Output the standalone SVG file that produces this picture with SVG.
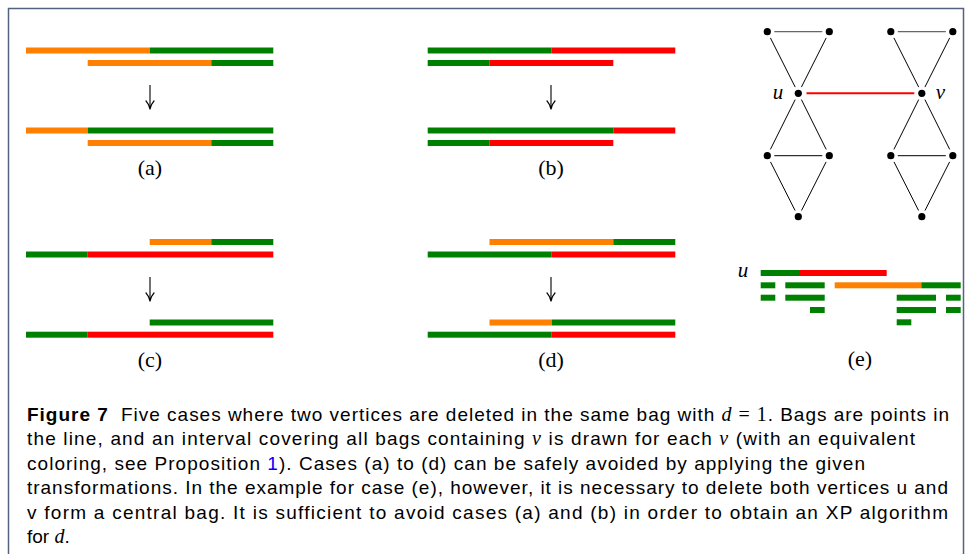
<svg xmlns="http://www.w3.org/2000/svg" width="970" height="554" viewBox="0 0 970 554">
<style>
.o{fill:#ff8000}.g{fill:#008000}.r{fill:#ff0000}
.lbl{font-family:"Liberation Serif",serif;font-size:22px;fill:#000;text-anchor:middle}
.mi{font-family:"Liberation Serif",serif;font-style:italic;font-size:21px;fill:#000}
.cap{font-family:"Liberation Sans",Arial,sans-serif;font-size:19px;fill:#000}
.m{font-family:"Liberation Serif",serif;font-style:italic;font-size:20px}
.mr{font-family:"Liberation Serif",serif;font-size:20px}
.arr{stroke:#000;stroke-width:1.1;fill:none}
.e{stroke:#000;stroke-width:1;fill:none}
.et{stroke:#666;stroke-width:1.3;fill:none}
</style>
<defs>
<g id="arrow"><path class="arr" d="M0,0 V24 M-4.3,15.5 Q-1,19 0,24.5 Q1,19 4.3,15.5"/></g>
<g id="tri">
<path class="et" d="M774.3,31.7 H822.3"/>
<path class="e" d="M770.4,37.9 L795.2,87.1 M826.2,37.9 L801.4,87.1 M795.2,99.6 L770.4,149.4 M801.4,99.6 L826.2,149.4 M774.3,155.7 H822.3 M770.5,161.9 L795.1,210.5 M826.1,161.9 L801.5,210.5"/>
<circle cx="767.3" cy="31.7" r="3.6"/><circle cx="829.3" cy="31.7" r="3.6"/>
<circle cx="798.3" cy="93.3" r="3.6"/>
<circle cx="767.3" cy="155.7" r="3.6"/><circle cx="829.3" cy="155.7" r="3.6"/>
<circle cx="798.3" cy="216.7" r="3.6"/>
</g>
</defs>
<rect x="0" y="0" width="970" height="554" fill="#fff"/>
<path d="M8.5,560 V8.5 H963.5 V560" fill="none" stroke="#54627e" stroke-width="1.5"/>

<g id="case-a">
<rect class="o" x="26" y="47.5" width="123.7" height="6"/><rect class="g" x="149.7" y="47.5" width="123.6" height="6"/>
<rect class="o" x="87.7" y="60" width="123.6" height="6"/><rect class="g" x="211.3" y="60" width="62" height="6"/>
<use href="#arrow" x="150" y="85"/>
<rect class="o" x="26" y="127.5" width="61.7" height="6"/><rect class="g" x="87.7" y="127.5" width="185.6" height="6"/>
<rect class="o" x="87.7" y="140" width="123.6" height="6"/><rect class="g" x="211.3" y="140" width="62" height="6"/>
<text class="lbl" x="150" y="175">(a)</text>
</g>

<g id="case-b">
<rect class="g" x="427.7" y="47.5" width="124" height="6"/><rect class="r" x="551.7" y="47.5" width="123.6" height="6"/>
<rect class="g" x="427.7" y="60" width="61.6" height="6"/><rect class="r" x="489.3" y="60" width="124" height="6"/>
<use href="#arrow" x="551" y="85"/>
<rect class="g" x="427.7" y="127.5" width="185.6" height="6"/><rect class="r" x="613.3" y="127.5" width="62" height="6"/>
<rect class="g" x="427.7" y="140" width="61.6" height="6"/><rect class="r" x="489.3" y="140" width="124" height="6"/>
<text class="lbl" x="551" y="175">(b)</text>
</g>

<g id="case-c">
<rect class="o" x="149.7" y="239" width="61.6" height="6"/><rect class="g" x="211.3" y="239" width="62" height="6"/>
<rect class="g" x="26" y="251.5" width="61.7" height="6"/><rect class="r" x="87.7" y="251.5" width="185.6" height="6"/>
<use href="#arrow" x="150" y="277"/>
<rect class="g" x="149.7" y="319.5" width="123.6" height="6"/>
<rect class="g" x="26" y="331.7" width="61.7" height="6"/><rect class="r" x="87.7" y="331.7" width="185.6" height="6"/>
<text class="lbl" x="150" y="367">(c)</text>
</g>

<g id="case-d">
<rect class="o" x="489.5" y="239" width="123.8" height="6"/><rect class="g" x="613.3" y="239" width="62" height="6"/>
<rect class="g" x="427.7" y="251.5" width="124" height="6"/><rect class="r" x="551.7" y="251.5" width="123.6" height="6"/>
<use href="#arrow" x="551" y="277"/>
<rect class="o" x="489.5" y="319.5" width="62.2" height="6"/><rect class="g" x="551.7" y="319.5" width="123.6" height="6"/>
<rect class="g" x="427.7" y="331.7" width="124" height="6"/><rect class="r" x="551.7" y="331.7" width="123.6" height="6"/>
<text class="lbl" x="551" y="367">(d)</text>
</g>

<g id="case-e-graph">
<use href="#tri"/>
<use href="#tri" x="123.5"/>
<path d="M806.5,93.3 H914.3" stroke="#ff0000" stroke-width="2"/>
<text class="mi" x="778" y="99" text-anchor="middle">u</text>
<text class="mi" x="940.5" y="99" text-anchor="middle">v</text>
</g>

<g id="case-e-bars">
<text class="mi" x="743" y="277" text-anchor="middle">u</text>
<rect class="g" x="760.7" y="270" width="39.3" height="6"/><rect class="r" x="800" y="270" width="86.7" height="6"/>
<rect class="g" x="760.7" y="282.3" width="14.6" height="6"/><rect class="g" x="785.3" y="282.3" width="39.4" height="6"/>
<rect class="o" x="834.7" y="282.3" width="86.6" height="6"/><rect class="g" x="921.3" y="282.3" width="39.4" height="6"/>
<rect class="g" x="760.7" y="294.7" width="14.6" height="6"/><rect class="g" x="785.3" y="294.7" width="39.4" height="6"/>
<rect class="g" x="896.7" y="294.7" width="39.3" height="6"/><rect class="g" x="946" y="294.7" width="14.7" height="6"/>
<rect class="g" x="810" y="307" width="14.7" height="6"/>
<rect class="g" x="896.7" y="307" width="39.3" height="6"/><rect class="g" x="946" y="307" width="14.7" height="6"/>
<rect class="g" x="896.7" y="319.3" width="14.6" height="6"/>
<text class="lbl" x="860" y="365.5">(e)</text>
</g>

<g id="caption" class="cap">
<text x="27" y="420.5" textLength="922"><tspan font-weight="bold">Figure 7</tspan><tspan dx="6"> Five cases where two vertices are deleted in the same bag with </tspan><tspan class="m">d</tspan><tspan class="mr"> = 1</tspan>. Bags are points in</text>
<text x="27" y="445" textLength="888">the line, and an interval covering all bags containing <tspan class="m">v</tspan> is drawn for each <tspan class="m">v</tspan> (with an equivalent</text>
<text x="27" y="469.5" textLength="838">coloring, see Proposition <tspan fill="#0000ff">1</tspan>). Cases (a) to (d) can be safely avoided by applying the given</text>
<text x="27" y="494" textLength="921">transformations. In the example for case (e), however, it is necessary to delete both vertices u and</text>
<text x="27" y="518.5" textLength="921">v form a central bag. It is sufficient to avoid cases (a) and (b) in order to obtain an XP algorithm</text>
<text x="27" y="543">for <tspan class="m">d</tspan>.</text>
</g>
</svg>
